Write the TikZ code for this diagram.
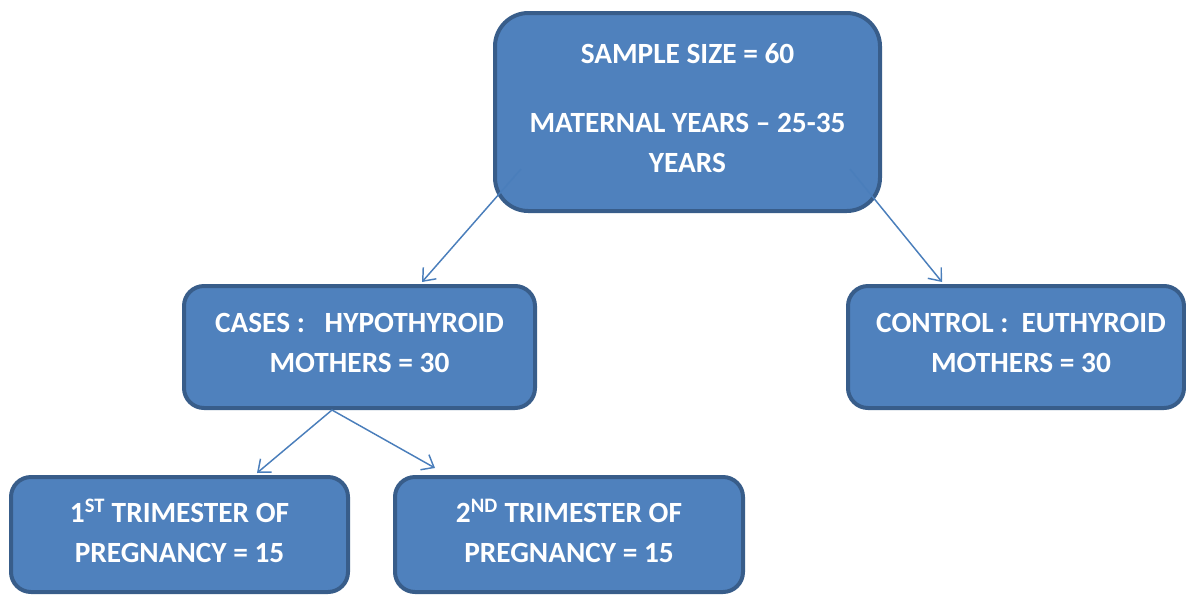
\documentclass[tikz,border=0pt]{standalone}
\usepackage{fontspec}
\setmainfont{Carlito}
\usetikzlibrary{arrows.meta}
\definecolor{boxfill}{HTML}{4F81BD}
\definecolor{boxline}{HTML}{385D8A}
\definecolor{linkline}{HTML}{4A7EBB}
\tikzset{
  box/.style={draw=boxline, fill=boxfill, line width=3pt, rounded corners=15pt,
    text=white, font=\fontsize{22}{30}\selectfont\bfseries, align=center, inner sep=0pt,
    text depth=6pt},
  link/.style={draw=linkline, line width=1.1pt, -{Straight Barb[length=8pt,width=13pt]}}
}

\begin{document}
\begin{tikzpicture}[x=0.75pt, y=-0.75pt]
  \useasboundingbox (0,0) rectangle (1186,594);
  \node[box, rounded corners=25pt, minimum width=288.75pt, minimum height=148.5pt]
    (sample) at (687.5,112) {SAMPLE SIZE = 60\\[21.75pt] MATERNAL YEARS – 25-35\\ YEARS};
  \node[box, minimum width=263.25pt, minimum height=91.5pt] (cases) at (359.5,347)
    {CASES :\ \ \ HYPOTHYROID\\ MOTHERS = 30};
  \node[box, minimum width=252pt, minimum height=91.5pt] (control) at (1016,347)
    {\hspace*{7.5pt}CONTROL :\ \ EUTHYROID\\ \hspace*{7.5pt}MOTHERS = 30};
  \node[box, minimum width=252.75pt, minimum height=86.25pt] (first) at (179.5,534.5)
    {1\textsuperscript{ST} TRIMESTER OF\\ PREGNANCY = 15};
  \node[box, minimum width=261pt, minimum height=86.25pt] (second) at (569,534.5)
    {2\textsuperscript{ND} TRIMESTER OF\\ PREGNANCY = 15};

  \draw[link] ([shift={(28,-44)}]sample.south west) -- ([shift={(62.5,-2)}]cases.north);
  \draw[link] ([shift={(-32,-44)}]sample.south east) -- ([shift={(-74,-2)}]control.north);
  \draw[link] ([shift={(-27.5,0)}]cases.south) -- ([shift={(77.5,-2)}]first.north);
  \draw[link] ([shift={(-27.5,0)}]cases.south) -- ([shift={(-134,-7)}]second.north);
\end{tikzpicture}
\end{document}
